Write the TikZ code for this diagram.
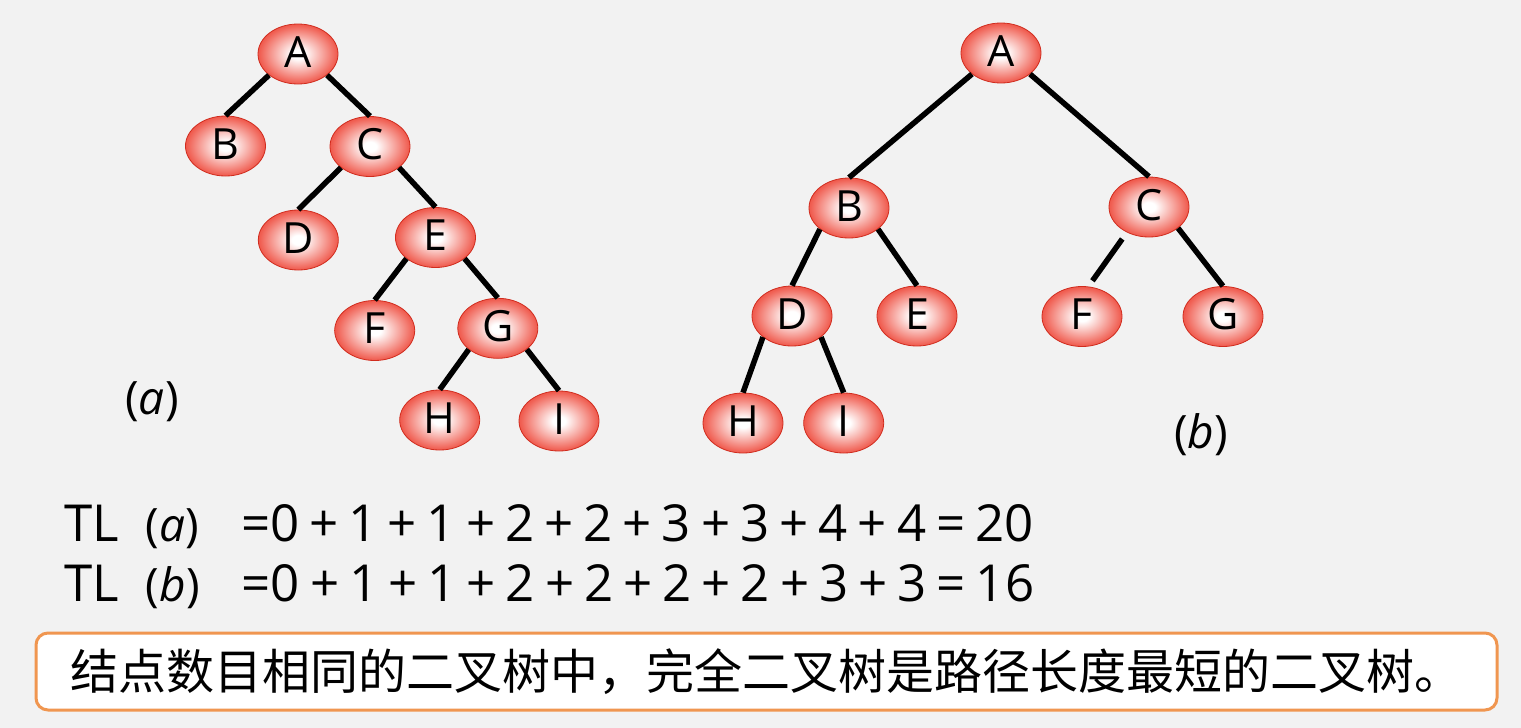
\documentclass[tikz,border=0pt]{standalone}
\usepackage{fontspec}
\setmainfont{Open Sans}
\newfontfamily\cjkfont{Noto Sans CJK SC}
\usetikzlibrary{shapes.geometric}

\definecolor{bg}{RGB}{242,242,242}
\definecolor{nodered}{RGB}{236,50,34}
\definecolor{boxorange}{RGB}{240,150,80}

% red ball shading: small white core fading into a strong red rim
\pgfdeclareradialshading{redball}{\pgfpoint{0bp}{0bp}}{%
  color(0bp)=(white); color(4bp)=(white);
  color(13bp)=(nodered!35!white); color(24bp)=(nodered!78!white);
  color(33bp)=(nodered); color(46bp)=(nodered); color(50bp)=(nodered!88!black);
  color(100bp)=(nodered!88!black)}

\newcommand\pl{\hspace{10pt}+\hspace{10pt}}
\newcommand\eqs{\hspace{10pt}=\hspace{10pt}}
\newcommand\lblsize{\fontsize{46}{46}\selectfont}

\tikzset{
  tnode/.style={ellipse, shade, shading=redball, draw=nodered!88!black,
    line width=0.8pt, minimum width=80pt, minimum height=60pt, inner sep=0pt,
    font=\fontsize{43}{43}\selectfont, text height=31pt, text depth=5pt},
  tedge/.style={line width=5.5pt, black},
  tlabel/.style={inner sep=0pt, font=\lblsize},
  eqline/.style={anchor=base west, inner sep=0pt, font=\fontsize{51}{51}\selectfont},
  notebox/.style={draw=boxorange, line width=3pt, fill=white, rounded corners=12pt,
    minimum width=1461pt, minimum height=77pt, inner sep=0pt,
    font=\cjkfont\fontsize{48}{48}\selectfont},
}

\begin{document}
\begin{tikzpicture}[x=1pt,y=-1pt]
\fill[bg] (0,0) rectangle (1521,728);

% tree (a)
\node[tnode] (aA) at (298,54) {A};
\node[tnode] (aB) at (225.5,146) {B};
\node[tnode] (aC) at (370,146.5) {C};
\node[tnode] (aD) at (298.3,240) {D};
\node[tnode] (aE) at (435.5,237.5) {E};
\node[tnode] (aF) at (374.7,330.5) {F};
\node[tnode] (aG) at (497.8,328.3) {G};
\node[tnode] (aH) at (439.7,420) {H};
\node[tnode] (aI) at (559,421) {I};

\draw[tedge] (aA.216) -- (aB.north);
\draw[tedge] (aA.324) -- (aC.north);
\draw[tedge] (aC.216) -- (aD.north);
\draw[tedge] (aC.324) -- (aE.north);
\draw[tedge] (aE.216) -- (aF.north);
\draw[tedge] (aE.324) -- (aG.north);
\draw[tedge] (aG.216) -- (aH.north);
\draw[tedge] (aG.324) -- (aI.north);

\node[tlabel] (la) at (152,402) {(\textit{a})};

% tree (b)
\node[tnode] (bA) at (1001,53) {A};
\node[tnode] (bB) at (849,208) {B};
\node[tnode] (bC) at (1149,207) {C};
\node[tnode] (bD) at (792,316) {D};
\node[tnode] (bE) at (917,316) {E};
\node[tnode] (bF) at (1082,316.5) {F};
\node[tnode] (bG) at (1223,316.5) {G};
\node[tnode] (bH) at (743,423) {H};
\node[tnode] (bI) at (843.7,423) {I};

\draw[tedge] (bA.216) -- (bB.north);
\draw[tedge] (bA.324) -- (bC.north);
\draw[tedge] (bB.216) -- (bD.north);
\draw[tedge] (bB.324) -- (bE.north);
\draw[tedge, shorten <=8pt, shorten >=7pt] (bC.229) -- (bF.78);
\draw[tedge] (bC.324) -- (bG.north);
\draw[tedge] (bD.216) -- (bH.north);
\draw[tedge] (bD.324) -- (bI.north);

\node[tlabel] (lb) at (1201,435) {(\textit{b})};

% path length sums
\node[eqline] (tla) at (64,541.7)
  {TL\hspace{27pt}{\lblsize(\textit{a})}\hspace{42pt}=0\pl1\pl1\pl2\pl2\pl3\pl3\pl4\pl4\eqs20};
\node[eqline] (tlb) at (64,601.7)
  {TL\hspace{27pt}{\lblsize(\textit{b})}\hspace{42pt}=0\pl1\pl1\pl2\pl2\pl2\pl2\pl3\pl3\eqs16};

% conclusion
\node[notebox] (note) at (766.5,671.5)
  {结点数目相同的二叉树中，完全二叉树是路径长度最短的二叉树。};
\end{tikzpicture}
\end{document}
